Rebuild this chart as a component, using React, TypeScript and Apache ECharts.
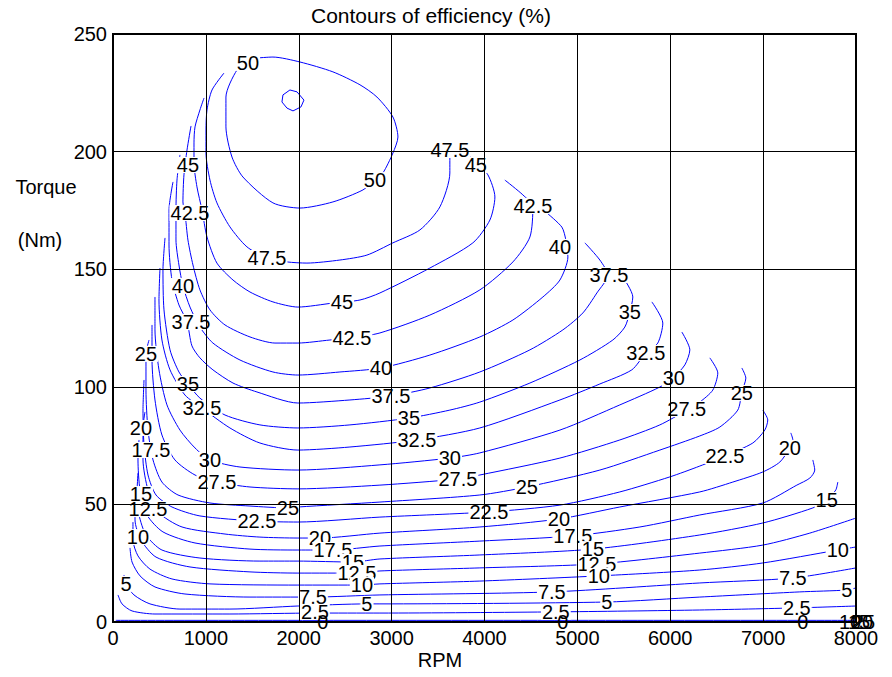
import React, { useEffect, useRef } from 'react';
import * as echarts from 'echarts';

// Contour lines of efficiency (%): [RPM, Torque Nm]
const c50 = [[1550,239.8],[1722,240.2],[2013,238.1],[2368,233.9],[2659,228.4],[2842,223.2],[3014,214.7],[3068,206.2],[3014,199.4],[2906,190.9],[2820,187.9],[2691,183.7],[2368,178.6],[2013,176.0],[1722,178.2],[1399,189.2],[1281,197.7],[1216,210.5],[1216,223.2],[1335,234.7],[1453,237.7],[1550,239.8]];
const c50ring = [[1830,224.1],[1905,226.2],[1981,225.4],[2056,221.9],[2024,219.0],[1938,217.3],[1873,218.5],[1819,221.1],[1830,224.1]];
const c47_5 = [[1195,233.4],[1066,226.2],[1012,217.7],[1001,209.2],[1001,199.4],[1044,187.9],[1119,178.2],[1259,168.0],[1442,159.5],[1658,154.8],[1873,153.1],[2088,152.6],[2443,153.9],[2734,156.0],[3014,161.2],[3305,166.7],[3520,176.5],[3627,190.9],[3627,199.8]];
const c45 = [[980,222.8],[936,217.7],[883,210.5],[872,203.7],[872,195.2],[904,185.0],[958,175.2],[1012,163.7],[1119,152.6],[1292,145.4],[1475,140.3],[1722,136.1],[1991,133.9],[2368,135.6],[2659,136.9],[2874,139.9],[3412,150.5],[3875,161.2],[4058,170.9],[4112,180.7],[4037,190.1],[3907,195.2],[3735,202.4]];
const c42_5 = [[840,210.9],[797,200.7],[764,190.1],[753,178.6],[775,173.9],[807,162.4],[861,151.8],[936,141.2],[1044,132.7],[1206,126.3],[1475,121.2],[1744,118.6],[1991,118.6],[2336,119.9],[2573,120.8],[2874,122.9],[3412,130.5],[3950,141.2],[4306,153.1],[4489,163.7],[4521,176.5],[4413,181.6],[4219,187.9]];
const c40 = [[721,198.6],[689,187.9],[678,175.2],[678,162.4],[710,151.8],[753,142.9],[829,133.9],[936,125.4],[1076,118.6],[1367,111.4],[1722,106.3],[1991,105.0],[2443,106.3],[2885,108.0],[3412,113.5],[3950,121.2],[4306,128.4],[4629,138.2],[4812,145.4],[4898,155.2],[4876,162.4],[4833,167.9],[4672,173.9]];
const c37_5 = [[646,187.1],[603,175.2],[603,160.3],[635,145.4],[710,134.8],[797,127.6],[850,117.4],[936,112.3],[1076,107.2],[1292,101.6],[1550,97.8],[1991,93.1],[2551,94.4],[2992,96.1],[3412,99.5],[3950,106.3],[4489,115.7],[4844,124.2],[5059,131.4],[5210,139.9],[5328,147.5],[5242,153.9],[5081,161.2]];
const c35 = [[560,163.3],[538,149.7],[549,132.7],[614,115.7],[710,106.3],[807,101.2],[936,95.2],[1206,88.0],[1582,83.8],[1991,82.5],[2551,83.8],[3186,86.7],[3627,90.1],[3950,93.5],[4489,101.6],[5027,111.4],[5382,119.9],[5511,125.4],[5565,131.8],[5597,138.2],[5490,146.7]];
const c32_5 = [[506,150.5],[495,136.9],[527,119.9],[614,107.2],[775,96.5],[958,91.0],[1259,82.5],[1582,76.1],[1991,73.1],[2551,74.4],[3272,77.4],[3950,82.5],[4812,94.4],[5242,101.2],[5586,107.2],[5737,114.4],[5866,118.6],[5920,127.1],[5802,136.1]];
const c30 = [[452,138.2],[452,124.2],[495,107.2],[581,92.3],[721,81.6],[883,74.0],[1044,68.9],[1367,65.9],[1991,64.6],[2874,66.8],[3627,69.7],[3950,71.9],[4812,81.6],[5457,92.3],[5888,99.9],[6028,103.7],[6157,109.3],[6211,115.7],[6125,123.3]];
const c27_5 = [[420,126.3],[420,111.4],[452,94.4],[527,79.5],[667,68.9],[883,62.5],[1119,59.5],[1475,57.4],[1991,56.6],[2874,58.2],[3714,60.8],[3950,62.5],[4812,69.7],[5457,77.4],[5888,83.8],[6178,90.1],[6318,93.5],[6458,98.6],[6512,105.9],[6426,112.3]];
const c25 = [[388,119.9],[355,114.0],[355,98.6],[377,81.6],[431,68.9],[527,59.5],[700,54.0],[1044,50.6],[1475,49.3],[1884,48.5],[1991,48.9],[2874,51.0],[3950,54.0],[4456,57.4],[5242,64.6],[5888,73.1],[6318,79.1],[6534,82.9],[6727,90.1],[6771,97.8],[6814,103.7],[6771,108.0]];
const c22_5 = [[334,102.9],[323,90.1],[334,75.3],[377,62.5],[463,54.0],[635,48.9],[936,45.1],[1550,42.9],[1991,42.5],[2874,44.6],[4047,46.8],[4812,49.7],[5457,55.3],[5996,61.7],[6318,66.3],[6588,70.6],[6889,76.1],[7018,81.6],[7050,85.9],[6997,90.1]];
const c20 = [[344,89.3],[323,82.5],[323,68.9],[377,56.1],[484,46.8],[743,40.4],[1206,37.4],[1582,36.1],[1991,35.7],[2228,35.7],[2874,37.8],[3950,40.4],[4801,43.8],[5457,48.9],[6318,55.3],[6674,59.5],[6997,63.8],[7180,68.0],[7287,74.0],[7320,77.4],[7298,80.4]];
const c17_5 = [[280,77.4],[269,68.9],[291,56.1],[366,45.5],[538,38.3],[883,33.6],[1475,31.0],[1991,30.6],[2368,30.6],[2874,32.3],[3950,34.4],[4951,36.6],[5673,40.4],[6318,45.5],[6997,50.6],[7363,58.2],[7503,61.2],[7556,64.6],[7535,68.9]];
const c15 = [[269,63.4],[258,54.4],[280,45.5],[355,37.0],[527,30.6],[936,27.2],[1582,25.9],[1991,25.9],[2583,25.5],[2874,26.8],[3950,28.5],[5167,31.0],[6318,37.0],[6997,42.1],[7535,48.5],[7685,51.9],[7782,56.1],[7804,59.5]];
const c12_5 = [[237,53.1],[237,43.4],[301,34.9],[463,27.6],[829,23.4],[1475,21.3],[1991,20.8],[2626,20.8],[2874,21.7],[3950,23.0],[5210,24.7],[6318,29.3],[6997,32.7],[7503,37.8],[8000,44.2]];
const c10 = [[215,42.5],[215,34.9],[269,28.1],[398,22.5],[635,18.3],[1044,16.2],[1991,15.7],[2680,15.7],[2874,16.2],[3950,17.4],[5231,19.6],[6318,22.1],[6997,25.1],[7804,30.6],[8000,31.9]];
const c7_5 = [[183,31.5],[205,25.5],[291,19.6],[452,14.9],[775,11.9],[1475,10.6],[2153,10.6],[2874,11.5],[4725,12.8],[6318,16.6],[7320,18.7],[8000,23.0]];
const c5 = [[118,20.0],[140,16.2],[226,11.5],[398,7.7],[721,5.5],[1259,5.5],[1991,6.8],[2734,7.7],[2874,7.7],[5317,8.5],[6318,10.6],[7395,12.8],[7901,13.6],[8000,14.5]];
const c2_5 = [[54,11.5],[97,7.7],[205,4.7],[452,3.4],[1259,3.4],[2174,3.8],[2874,3.8],[4768,4.3],[6318,5.1],[7363,6.0],[8000,6.8]];
const c0 = [[30,0.7],[8000,0.7]];

// Inline contour labels: [text, RPM, Torque]
const contourLabels: [string, number, number][] = [
  ['50',1453,237.7],['50',2820,187.9],
  ['47.5',1658,154.8],['47.5',3627,200.7],
  ['45',807,194.3],['45',3907,194.3],['45',2465,136.1],
  ['42.5',829,173.9],['42.5',4521,176.9],['42.5',2573,120.8],
  ['40',753,142.9],['40',4812,159.5],['40',2885,108.0],
  ['37.5',840,127.6],['37.5',5339,147.5],['37.5',2992,96.1],
  ['35',5565,131.8],['35',807,101.2],['35',3186,86.7],
  ['32.5',958,91.0],['32.5',5737,114.4],['32.5',3272,77.4],
  ['30',6039,103.7],['30',1044,68.9],['30',3627,69.7],
  ['27.5',1119,59.5],['27.5',6178,90.6],['27.5',3714,60.8],
  ['25',355,114.0],['25',6771,97.4],['25',1884,48.5],['25',4456,57.4],
  ['22.5',6588,70.6],['22.5',1550,42.9],['22.5',4047,46.8],
  ['20',301,82.5],['20',7287,74.0],['20',4801,43.8],['20',2228,35.7],
  ['17.5',409,73.1],['17.5',2368,30.6],['17.5',4951,36.6],
  ['15',301,54.4],['15',7685,51.9],['15',5167,31.0],['15',2583,25.5],
  ['12.5',377,48.0],['12.5',5210,24.7],['12.5',2626,20.8],
  ['10',269,36.1],['10',7804,30.6],['10',5231,19.6],['10',2680,15.7],
  ['7.5',2153,10.6],['7.5',4725,12.8],['7.5',7320,18.7],
  ['5',140,16.2],['5',2734,7.7],['5',5317,8.5],['5',7901,13.6],
  ['2.5',2174,4.3],['2.5',4768,4.3],['2.5',7363,6.0],
];
const zeroLabels: [string, number, number][] = [['0',2260,0],['0',4844,0],['0',7427,0]];
// labels piled up at the lower right corner (8000, 0)
const cornerLabels = ['10','15','20','25'];
const cornerShift = [-6, 3, 6, 8];

const contours = [
  { level: 0, pts: c0 }, { level: 2.5, pts: c2_5 }, { level: 5, pts: c5 }, { level: 7.5, pts: c7_5 },
  { level: 10, pts: c10 }, { level: 12.5, pts: c12_5 }, { level: 15, pts: c15 }, { level: 17.5, pts: c17_5 },
  { level: 20, pts: c20 }, { level: 22.5, pts: c22_5 }, { level: 25, pts: c25 }, { level: 27.5, pts: c27_5 },
  { level: 30, pts: c30 }, { level: 32.5, pts: c32_5 }, { level: 35, pts: c35 }, { level: 37.5, pts: c37_5 },
  { level: 40, pts: c40 }, { level: 42.5, pts: c42_5 }, { level: 45, pts: c45 }, { level: 47.5, pts: c47_5 },
  { level: 50, pts: c50 }, { level: 50.1, pts: c50ring },
];

const FONT = '"Liberation Sans", Arial, Helvetica, sans-serif';

export default function App() {
  const ref = useRef<HTMLDivElement>(null);
  useEffect(() => {
    const chart = echarts.init(ref.current!, null, { renderer: 'svg' });
    const lineSeries = contours.map((c) => ({
      type: 'line',
      name: 'efficiency ' + c.level,
      data: c.pts,
      symbol: 'none',
      showSymbol: false,
      smooth: c.level === 50.1 ? false : 0.25,
      lineStyle: { color: '#0000ff', width: 1 },
      z: 2,
      silent: true,
    }));
    const labelStyle = {
      show: true,
      position: 'inside',
      formatter: '{b}',
      fontSize: 20,
      fontFamily: FONT,
      color: '#000',
      textBorderWidth: 0,
      backgroundColor: '#fff',
      padding: [0, 1],
      lineHeight: 16,
    };
    const labelSeries = {
      type: 'scatter',
      name: 'labels',
      symbol: 'circle',
      symbolSize: 1,
      itemStyle: { color: '#fff', opacity: 1 },
      z: 3,
      clip: false,
      silent: true,
      data: [
        ...contourLabels.map(([t, x, y]) => ({ name: t, value: [x, y] })),
        ...zeroLabels.map(([t, x, y]) => ({ name: t, value: [x, y], label: { backgroundColor: 'transparent' } })),
        ...cornerLabels.map((t, i) => ({ name: t, value: [8000, 0], label: { backgroundColor: 'transparent', offset: [cornerShift[i], 0] } })),
      ],
      label: labelStyle,
    };
    const axisLabel = { fontSize: 20, fontFamily: FONT, color: '#000', margin: 6, formatter: (v: number) => String(v) };
    chart.setOption({
      animation: false,
      backgroundColor: '#fff',
      grid: { left: 113, right: 36, top: 34, bottom: 55, show: true, borderColor: '#000', borderWidth: 2, backgroundColor: 'transparent', z: 6 },
      xAxis: {
        type: 'value', min: 0, max: 8000, interval: 1000, z: 5,
        axisLine: { show: false }, axisTick: { show: false },
        splitLine: { show: true, lineStyle: { color: '#000', width: 1 } },
        axisLabel,
      },
      yAxis: {
        type: 'value', min: 0, max: 250, interval: 50, z: 5,
        axisLine: { show: false }, axisTick: { show: false },
        splitLine: { show: true, lineStyle: { color: '#000', width: 1 } },
        axisLabel,
      },
      graphic: [
        { type: 'text', x: 431, y: 15, style: { text: 'Contours of efficiency (%)', fontSize: 21, fontFamily: FONT, fill: '#000', align: 'center', verticalAlign: 'middle' } },
        { type: 'text', x: 46, y: 187, style: { text: 'Torque', fontSize: 20, fontFamily: FONT, fill: '#000', align: 'center', verticalAlign: 'middle' } },
        { type: 'text', x: 40, y: 240, style: { text: '(Nm)', fontSize: 20, fontFamily: FONT, fill: '#000', align: 'center', verticalAlign: 'middle' } },
        { type: 'text', x: 440, y: 660, style: { text: 'RPM', fontSize: 20, fontFamily: FONT, fill: '#000', align: 'center', verticalAlign: 'middle' } },
      ],
      series: [...lineSeries, labelSeries],
    });
    return () => chart.dispose();
  }, []);
  return <div ref={ref} style={{ position: 'absolute', left: 0, top: 0, width: 892, height: 677, background: '#fff' }} />;
}
